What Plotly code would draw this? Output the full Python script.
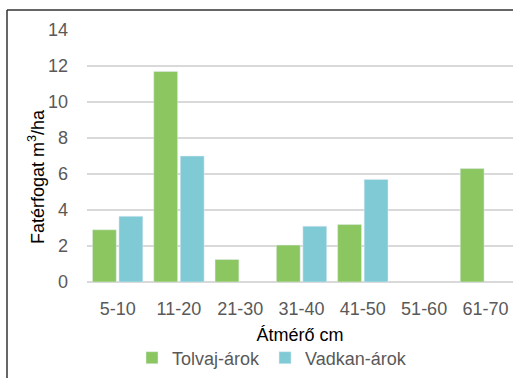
import plotly.graph_objects as go

categories = ["5-10", "11-20", "21-30", "31-40", "41-50", "51-60", "61-70"]
tolvaj = [2.9, 11.7, 1.25, 2.05, 3.2, None, 6.3]
vadkan = [3.65, 7.0, None, 3.1, 5.7, None, None]
y_ticks = [0, 2, 4, 6, 8, 10, 12, 14]

W, H = 513, 378
L, R, T, B = 87, 0, 30, 96
pw, ph = W - L - R, H - T - B

font_family = "Liberation Sans, Arial, sans-serif"
FS = 18

fig = go.Figure()
fig.add_trace(go.Bar(name="Tolvaj-árok", x=categories, y=tolvaj, marker_color="#8BC661"))
fig.add_trace(go.Bar(name="Vadkan-árok", x=categories, y=vadkan, marker_color="#80CAD6"))

# outer frame (left and top edges visible)
fx0 = (7 - L) / pw
fy1 = 1 + (T - 10) / ph
fig.add_shape(type="line", xref="paper", yref="paper", x0=fx0, x1=fx0, y0=-2, y1=fy1,
              line=dict(color="#333333", width=1.5))
fig.add_shape(type="line", xref="paper", yref="paper", x0=fx0, x1=2, y0=fy1, y1=fy1,
              line=dict(color="#333333", width=1.5))

# y-axis title, placed slightly below the plot's vertical centre
fig.add_annotation(text="Fatérfogat m<sup>3</sup>/ha", xref="paper", yref="paper",
                   x=(37 - L) / pw, y=(T + ph - 177) / ph, xanchor="center", yanchor="middle",
                   textangle=-90, showarrow=False, font=dict(size=FS, color="black"))

fig.update_layout(
    width=W, height=H,
    margin=dict(l=L, r=R, t=T, b=B, autoexpand=False),
    paper_bgcolor="white", plot_bgcolor="white",
    barmode="group", bargap=0.135, bargroupgap=0.1,
    font=dict(family=font_family, size=FS, color="#595959"),
    showlegend=True,
    legend=dict(orientation="h", x=(272 - L) / pw, xanchor="center", y=-(358 - T - ph) / ph,
                yanchor="middle", font=dict(size=FS, color="#595959"), itemwidth=30,
                traceorder="normal"),
    xaxis=dict(range=[-0.5, 6.45], showgrid=False, showline=False, ticks="",
               tickfont=dict(size=FS, color="#595959"), ticklabelstandoff=14,
               title=dict(text="Átmérő cm", font=dict(size=FS, color="black"), standoff=10)),
    yaxis=dict(range=[0, 14], tickvals=y_ticks, showgrid=True, gridcolor="#D9D9D9", gridwidth=1.5,
               zeroline=True, zerolinecolor="#D9D9D9", zerolinewidth=1.5, showline=False, ticks="",
               tickfont=dict(size=FS, color="#595959"), ticklabelstandoff=18),
)

fig.write_html("out.html")
